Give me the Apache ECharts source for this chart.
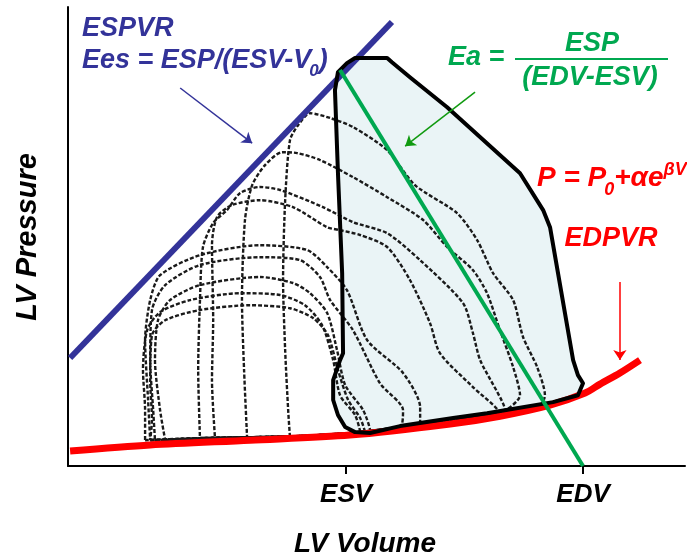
<!DOCTYPE html>
<html>
<head>
<meta charset="utf-8">
<style>
  html, body { margin: 0; padding: 0; background: #fff; }
  #chart { width: 687px; height: 558px; }
</style>
<script src="https://cdn.jsdelivr.net/npm/echarts@6/dist/echarts.min.js"></script>
</head>
<body>
<div id="chart"></div>
<script>
// volume (mL-ish) on x, pressure (mmHg-ish) on y
var ESV = 92, EDV = 171;
var volumeTicks = [ESV, EDV];
var volumeTickLabels = ['ESV', 'EDV'];

var espvr = [[0, 34.7], [107.3, 146.7]];
var edpvr = [[0, 3.7], [26.7, 5.7], [60, 7.3], [93.3, 9], [126.7, 12.7], [143.3, 15.3],
  [160, 19], [171.7, 23], [176.7, 26], [183.3, 29.7], [190, 34]];
var eaLine = [[90, 130.7], [EDV, -1.3]];

// baseline steady-state loop (shaded)
var pvLoop = [[92.3, 133], [95, 134.7], [105.7, 134.7], [107.3, 133.3], [113.3, 128.3], [125.7, 118.3],
  [150, 96.3], [157.7, 84], [160, 78.3], [167.7, 34], [169.3, 29], [171, 26.3], [169.3, 22.3],
  [161, 20], [139, 16.3], [127.7, 14.7], [110, 12], [100, 9.7], [95, 10], [91.7, 11.7],
  [89.3, 15.7], [87.7, 20.7], [87.7, 27.3], [90, 34], [91, 36.3], [90.7, 63], [89.3, 96.3],
  [88.3, 124], [89.3, 130], [92.3, 133]];

// occlusion loops (dashed)
var loop1 = [[73.3, 8.3], [93.3, 9.7], [110, 11.3], [126.7, 14], [143.3, 16.7], [156.7, 19], [158.3, 22.3],
  [155.7, 31.7], [151, 41.7], [147.7, 54], [141, 63], [135.7, 74], [129, 83], [115, 92.3], [105.7, 104],
  [94.3, 111.7], [86.7, 114.7], [80, 116.3], [76, 112.3], [73.3, 107.3], [71.7, 87.3], [71, 60.7],
  [71.7, 37.3], [72.7, 17.3], [73.3, 8.3]];
var loop2 = [[59, 8.3], [76.7, 8.7], [93.3, 9.7], [110, 11.3], [126.7, 14], [143.3, 16.3], [150, 22.3],
  [147.7, 31.7], [143.3, 44], [139, 56.3], [134.3, 64], [125.7, 71.7], [117.7, 80.7], [105.7, 88.3],
  [94.3, 95], [83.3, 100.7], [75.7, 103], [70.7, 103.3], [65, 99], [60.7, 92.3], [58.3, 80.7],
  [57.3, 54], [58, 30.7], [59, 8.3]];
var loop3 = [[43.3, 8], [60, 8.3], [76.7, 8.7], [93.3, 9.7], [110, 11.7], [126.7, 14], [145, 17.3],
  [136.7, 34], [134.3, 43], [131, 53], [116.7, 67.3], [105.7, 76.3], [94.3, 80], [84.3, 85], [70, 90.7],
  [63.3, 91.7], [56.7, 89.7], [52.3, 84], [47.7, 79.7], [44.3, 71.7], [43.3, 54], [42.7, 30.7], [43.3, 8]];
var loop4 = [[48.3, 8], [63.3, 8.3], [76.7, 8.7], [93.3, 9.7], [110, 11.7], [126.7, 14.3], [142.7, 17],
  [134.3, 25], [123.3, 36.3], [120, 46.3], [113.3, 60.7], [105.7, 71.7], [96.7, 75.7], [90, 77.3],
  [85.7, 78.3], [74.3, 85], [63.3, 87.3], [54, 85.7], [49, 81.7], [47.3, 72.3], [47.7, 47.3],
  [47.3, 27.3], [48.3, 8]];
var loop5 = [[26.7, 7.3], [43.3, 8], [60, 8.3], [76.7, 8.7], [93.3, 9.7], [110, 11.7], [116.7, 13.3],
  [116.7, 18.3], [111, 29.7], [99, 40.7], [92.3, 57.3], [85.7, 65], [79, 70.7], [63.3, 72.3], [43.3, 69],
  [30, 62.3], [26.7, 54], [25, 40.7], [26, 20.7], [26.7, 7.3]];
var loop6 = [[28.3, 7.3], [43.3, 8], [60, 8.3], [76.7, 8.7], [93.3, 9.7], [110, 11.3], [111, 17.3],
  [103.3, 26.3], [94.3, 44], [86.7, 54], [83.3, 61.7], [76.7, 67.3], [63.3, 68.3], [43.3, 65.7],
  [31.7, 59], [27.3, 50.7], [26.7, 34], [27.7, 17.3], [28.3, 7.3]];
var loop7 = [[31.7, 7.3], [50, 8], [70, 8.3], [86.7, 9], [100, 10.7], [97.7, 17.3], [91.7, 25.7],
  [89, 37.3], [85.7, 49.7], [80, 56.3], [74.3, 59.7], [63.3, 61.7], [43.3, 59], [33.3, 54], [29.3, 47.3],
  [28.3, 34], [30, 17.3], [31.7, 7.3]];
var loop8 = [[25, 7.3], [43.3, 8], [63.3, 8.3], [83.3, 8.7], [96.7, 10], [95, 15.7], [90, 22.3],
  [87.7, 34], [84, 45.7], [78.3, 52.3], [70, 55.7], [56.7, 56.3], [40, 54], [30, 50], [25.7, 44],
  [24.3, 30.7], [25, 17.3], [25, 7.3]];
var loop9 = [[26.7, 7.3], [46.7, 8], [66.7, 8.3], [86.7, 8.7], [98.3, 10], [96.7, 14.7], [92.7, 20.7],
  [89.3, 30.7], [86, 42.3], [81, 48], [73.3, 51.3], [60, 52.3], [43.3, 50.7], [31.7, 47.3], [27.3, 42.3],
  [26.7, 27.3], [27.3, 14], [26.7, 7.3]];
var dashedLoops = [loop1, loop2, loop3, loop4, loop5, loop6, loop7, loop8, loop9];

var arrowEes = [[36.7, 124.7], [60.7, 106.3]];
var arrowEa = [[135, 123.3], [111.7, 105.3]];
var arrowEdpvr = [[183.3, 60], [183.3, 34]];

var FONT = '"Liberation Sans", Arial, sans-serif';
var BLUE = '#333399', GREEN = '#00a850', RED = '#ff0000';

var ctx = document.createElement('canvas').getContext('2d');
function tw(s, size) {
  ctx.font = 'italic bold ' + size + 'px ' + FONT;
  return ctx.measureText(s).width;
}
function txt(s, x, y, size, color, align, rot) {
  return {
    type: 'text', x: x, y: y, rotation: rot || 0, z: 20,
    style: {
      text: s, fill: color, align: align || 'left', verticalAlign: 'middle',
      font: 'italic bold ' + size + 'px ' + FONT
    }
  };
}

var chart = echarts.init(document.getElementById('chart'), null, { renderer: 'canvas' });

var series = [];
// shaded baseline loop
series.push({
  type: 'custom', data: pvLoop, z: 1, silent: true,
  renderItem: function(params, api) {
    if (params.dataIndex !== 0) return null;
    var pts = pvLoop.map(function(p) { return api.coord(p); });
    return { type: 'polygon', shape: { points: pts }, style: { fill: '#eaf4f6', stroke: null } };
  }
});
dashedLoops.forEach(function(d) {
  series.push({
    type: 'line', data: d, smooth: 0.25, showSymbol: false, silent: true, z: 3,
    lineStyle: { color: '#1a1a1a', width: 2.4, type: [4, 2] }
  });
});
series.push({
  type: 'line', data: edpvr, smooth: 0.3, showSymbol: false, silent: true, z: 4,
  lineStyle: { color: RED, width: 7 }
});
series.push({
  type: 'line', data: pvLoop, showSymbol: false, silent: true, z: 5,
  lineStyle: { color: '#000', width: 4, join: 'round', cap: 'round' }
});
series.push({
  type: 'line', data: espvr, showSymbol: false, silent: true, z: 4,
  lineStyle: { color: BLUE, width: 6 }
});
series.push({
  type: 'line', data: eaLine, showSymbol: false, silent: true, z: 6,
  lineStyle: { color: GREEN, width: 4 }
});
series.push({
  type: 'lines', coordinateSystem: 'cartesian2d', silent: true, z: 7,
  symbol: ['none', 'arrow'], symbolSize: 10,
  data: [
    { coords: arrowEes, lineStyle: { color: BLUE, width: 1.5, opacity: 1 } },
    { coords: arrowEa, lineStyle: { color: '#109a10', width: 1.5, opacity: 1 } },
    { coords: arrowEdpvr, lineStyle: { color: RED, width: 1.5, opacity: 1 } }
  ]
});

// formula texts
var g = [];
g.push(txt('ESPVR', 82, 29, 27, BLUE));
var e1 = 'Ees = ESP/(ESV-V';
var w1 = tw(e1, 27);
g.push(txt(e1, 82, 61, 27, BLUE));
g.push(txt('0', 82 + w1 - 2, 71, 17, BLUE));
g.push(txt(')', 82 + w1 - 2 + tw('0', 17), 61, 27, BLUE));

g.push(txt('Ea =', 448, 58, 27, GREEN));
g.push(txt('ESP', 592, 44, 27, GREEN, 'center'));
g.push({ type: 'line', z: 20, shape: { x1: 515, y1: 59, x2: 668, y2: 59 }, style: { stroke: GREEN, lineWidth: 2 } });
g.push(txt('(EDV-ESV)', 590, 78, 27, GREEN, 'center'));

var p1 = 'P = P';
var pw = tw(p1, 28);
g.push(txt(p1, 537, 178, 28, RED));
g.push(txt('0', 537 + pw - 2, 190, 18, RED));
var px2 = 537 + pw - 2 + tw('0', 18);
g.push(txt('+\u03b1e', px2, 178, 28, RED));
g.push(txt('\u03b2V', px2 + tw('+\u03b1e', 28), 170, 18, RED));
g.push(txt('EDPVR', 611, 239, 27, RED, 'center'));

g.push(txt('LV Volume', 365, 544, 28, '#000', 'center'));
g.push(txt('LV Pressure', 28, 237, 29, '#000', 'center', Math.PI / 2));

chart.setOption({
  animation: false,
  backgroundColor: '#fff',
  grid: { left: 68, right: 2, top: 7, bottom: 92 },
  xAxis: {
    type: 'value', min: -0.7, max: 205,
    axisLine: { onZero: false, lineStyle: { color: '#000', width: 2 } },
    axisTick: { show: true, customValues: volumeTicks, length: 8, lineStyle: { color: '#000', width: 2 } },
    axisLabel: {
      show: true, customValues: volumeTicks, margin: 16,
      formatter: function(v) { return volumeTickLabels[volumeTicks.indexOf(v)] || ''; },
      color: '#000', fontSize: 26, fontWeight: 'bold', fontStyle: 'italic', fontFamily: FONT
    },
    splitLine: { show: false }
  },
  yAxis: {
    type: 'value', min: -1.3, max: 151.7,
    axisLine: { show: true, onZero: false, lineStyle: { color: '#000', width: 2 } },
    axisTick: { show: false },
    axisLabel: { show: false },
    splitLine: { show: false }
  },
  graphic: g,
  series: series
});

window.addEventListener('resize', function() { chart.resize(); });
</script>
</body>
</html>
